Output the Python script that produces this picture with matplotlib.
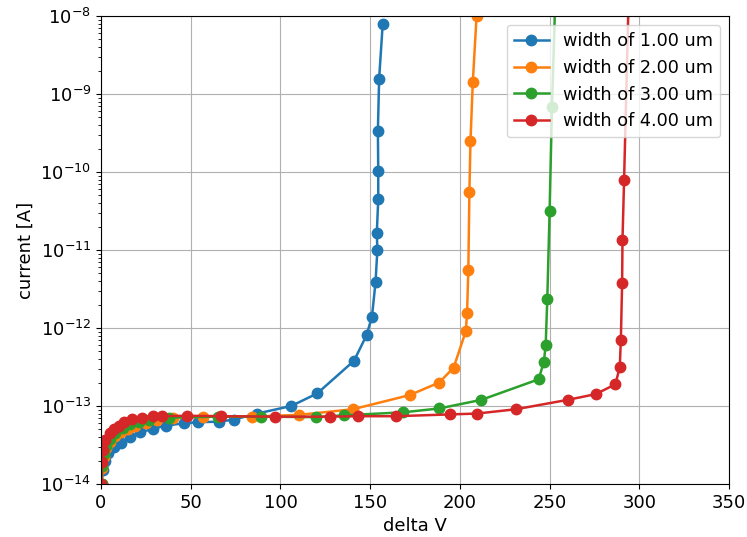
import numpy as np
import matplotlib
matplotlib.use('Agg')
import matplotlib.pyplot as plt

# Values
labels = ['width of 1.00 um', 'width of 2.00 um', 'width of 3.00 um', 'width of 4.00 um']

v_w1 = [0.3, 1, 2, 4, 7, 11, 16, 22, 29, 36, 46, 54, 66, 74, 87, 106, 120.5,
        141, 148, 151, 153, 154, 153.7, 154.5, 154.5, 154.3, 155, 157]
i_w1 = [1.0e-14, 1.5e-14, 2.0e-14, 2.5e-14, 3.0e-14, 3.4e-14, 4.0e-14, 4.6e-14,
        5.1e-14, 5.6e-14, 6.0e-14, 6.2e-14, 6.3e-14, 6.7e-14, 8.0e-14, 1.0e-13,
        1.45e-13, 3.8e-13, 8.1e-13, 1.4e-12, 3.9e-12, 1.0e-11, 1.65e-11, 4.5e-11,
        1.02e-10, 3.4e-10, 1.58e-9, 8.0e-9]

v_w2 = [0.3, 0.8, 1.5, 3, 5, 8, 11, 15, 19, 25, 31, 40, 57, 84, 110.5, 140.5,
        172, 188.5, 196.5, 203.3, 204, 204.7, 205.3, 205.9, 207.2, 209.3]
i_w2 = [1.0e-14, 1.6e-14, 2.2e-14, 2.9e-14, 3.5e-14, 4.1e-14, 4.6e-14, 5.1e-14,
        5.6e-14, 6.1e-14, 6.6e-14, 7.0e-14, 7.3e-14, 7.3e-14, 7.7e-14, 9.1e-14,
        1.38e-13, 2.0e-13, 3.1e-13, 9.1e-13, 1.55e-12, 5.6e-12, 5.6e-11, 2.5e-10,
        1.43e-9, 1.0e-8]

v_w3 = [0.3, 0.8, 1.5, 3, 5, 8, 12, 16, 21, 27, 38, 65, 89, 120, 135.5, 168.4,
        188.5, 212, 243.9, 246.8, 247.8, 248.7, 250, 251.3, 253.5]
i_w3 = [1.0e-14, 1.7e-14, 2.4e-14, 3.1e-14, 3.8e-14, 4.5e-14, 5.2e-14, 5.8e-14,
        6.3e-14, 6.7e-14, 7.1e-14, 7.3e-14, 7.3e-14, 7.2e-14, 7.6e-14, 8.3e-14,
        9.3e-14, 1.2e-13, 2.2e-13, 3.7e-13, 6.0e-13, 2.35e-12, 3.2e-11, 6.8e-10, 3e-8]

v_w4 = [0.2, 0.5, 1, 2.5, 5, 7.5, 10, 13, 17, 23, 29, 34, 48, 67, 97, 127.5, 143,
        164.4, 194.5, 209.6, 231.4, 260.2, 275.7, 286.7, 289.1, 289.7, 290.4,
        290.6, 291.5, 294.3]
i_w4 = [1.0e-14, 1.9e-14, 2.7e-14, 3.7e-14, 4.5e-14, 5.1e-14, 5.6e-14, 6.3e-14,
        6.9e-14, 7.1e-14, 7.5e-14, 7.4e-14, 7.5e-14, 7.4e-14, 7.3e-14, 7.3e-14,
        7.4e-14, 7.4e-14, 7.8e-14, 8.0e-14, 9.1e-14, 1.2e-13, 1.42e-13, 1.9e-13,
        3.2e-13, 7.1e-13, 3.8e-12, 1.33e-11, 8.0e-11, 3e-8]

series = [(v_w1, i_w1), (v_w2, i_w2), (v_w3, i_w3), (v_w4, i_w4)]

fig = plt.figure(figsize=(7.47, 5.37), dpi=100)
ax = fig.add_axes([0.1352, 0.0987, 0.8408, 0.8715])

for (v, i), lab in zip(series, labels):
    ax.semilogy(v, i, '-o', label=lab, lw=1.8, ms=7.5)

ax.set_xlim(0, 350)
ax.set_ylim(1e-14, 1e-8)
ax.set_xlabel('delta V', fontsize=13)
ax.set_ylabel('current [A]', fontsize=13)
ax.tick_params(labelsize=13)
ax.grid(True)
ax.legend(loc='upper right', fontsize=12.7)

fig.savefig('out.png', dpi=100)
